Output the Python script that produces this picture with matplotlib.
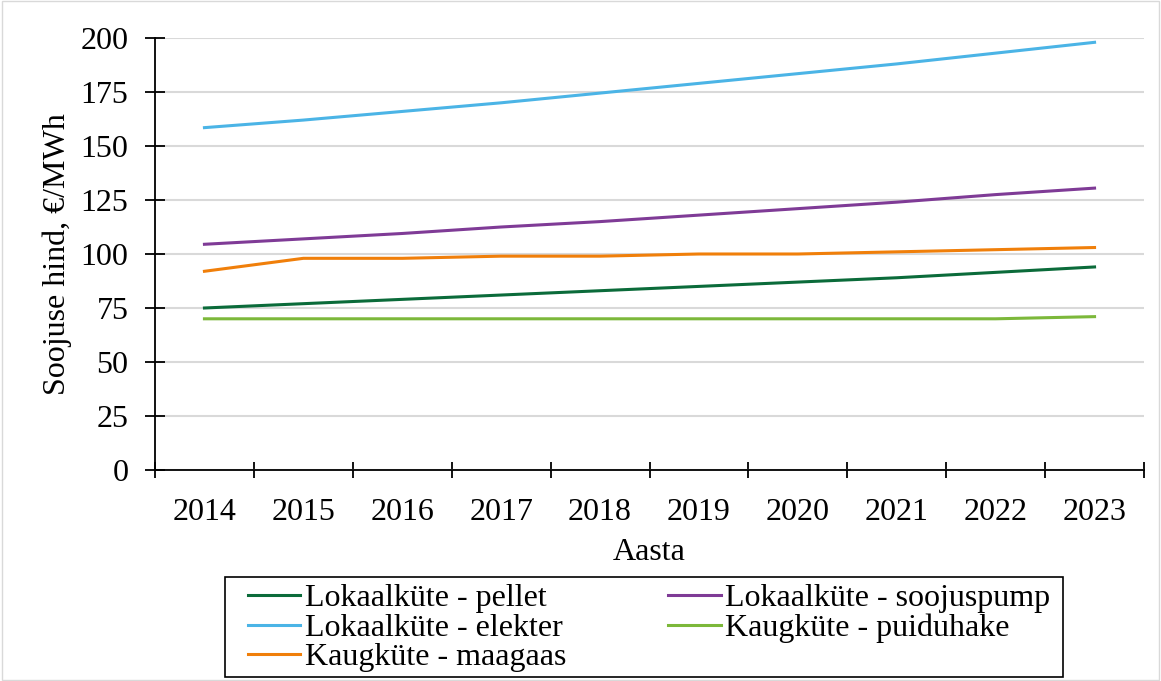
import numpy as np
import matplotlib.pyplot as plt
from matplotlib.patches import Rectangle

plt.rcParams['font.family'] = ['Liberation Serif', 'DejaVu Serif']

# data
years = ['2014', '2015', '2016', '2017', '2018', '2019', '2020', '2021', '2022', '2023']
pellet = [75, 77, 79, 81, 83, 85, 87, 89, 91.5, 94]
soojuspump = [104.5, 107, 109.5, 112.5, 115, 118, 121, 124, 127.5, 130.5]
elekter = [158.5, 162, 166, 170, 174.5, 179, 183.5, 188, 193, 198]
puiduhake = [70, 70, 70, 70, 70, 70, 70, 70, 70, 71]
maagaas = [92, 98, 98, 99, 99, 100, 100, 101, 102, 103]

series = [
    ('Lokaalküte - pellet', pellet, '#0b6b3a'),
    ('Lokaalküte - soojuspump', soojuspump, '#7f3b96'),
    ('Lokaalküte - elekter', elekter, '#4bb4e6'),
    ('Kaugküte - puiduhake', puiduhake, '#7cb83a'),
    ('Kaugküte - maagaas', maagaas, '#f07f0a'),
]

fig = plt.figure(figsize=(11.61, 6.81), dpi=100)
ax = fig.add_axes([155 / 1161, 1 - 470 / 681, 989 / 1161, 432 / 681])

x = np.arange(len(years))
lines = {}
for name, vals, col in series:
    lines[name], = ax.plot(x, vals, color=col, linewidth=2.2, label=name)

ax.set_xlim(-0.5, len(years) - 0.5)
ax.set_ylim(0, 200)
ax.set_yticks(np.arange(0, 201, 25))
ax.set_xticks(x)
ax.set_xticklabels(years)
ax.set_xticks(np.arange(-0.5, len(years)), minor=True)
ax.grid(axis='y', color='#d9d9d9', linewidth=1.5)
ax.set_axisbelow(True)

for s in ['top', 'right']:
    ax.spines[s].set_visible(False)
for s in ['left', 'bottom']:
    ax.spines[s].set_color('black')
    ax.spines[s].set_linewidth(1.3)

ax.tick_params(axis='y', direction='inout', length=14, width=1.3, labelsize=23, pad=12)
ax.tick_params(axis='x', which='major', length=0, labelsize=23, pad=20)
ax.tick_params(axis='x', which='minor', direction='inout', length=12, width=1.3)

ax.set_ylabel('Soojuse hind, €/MWh', fontsize=23, labelpad=6)
ax.set_xlabel('Aasta', fontsize=23, labelpad=8)

# legend is filled column by column, so order handles to read row by row
order = ['Lokaalküte - pellet', 'Lokaalküte - elekter', 'Kaugküte - maagaas',
         'Lokaalküte - soojuspump', 'Kaugküte - puiduhake']
leg = fig.legend([lines[n] for n in order], order,
                 loc='upper left', bbox_to_anchor=(248 / 1161, 1 - 584 / 681),
                 ncol=2, fontsize=23, frameon=False,
                 handlelength=1.63, handletextpad=0.15, columnspacing=3.2,
                 labelspacing=0.0, borderpad=0, borderaxespad=0)

fig.patches.append(Rectangle((225 / 1161, 1 - 677 / 681), 838 / 1161, 100 / 681,
                             transform=fig.transFigure, fill=False,
                             edgecolor='black', linewidth=1.2))
fig.patches.append(Rectangle((0.002, 0.002), 0.996, 0.996, transform=fig.transFigure,
                             fill=False, edgecolor='#d9d9d9', linewidth=1))

fig.savefig('out.png', dpi=100)
